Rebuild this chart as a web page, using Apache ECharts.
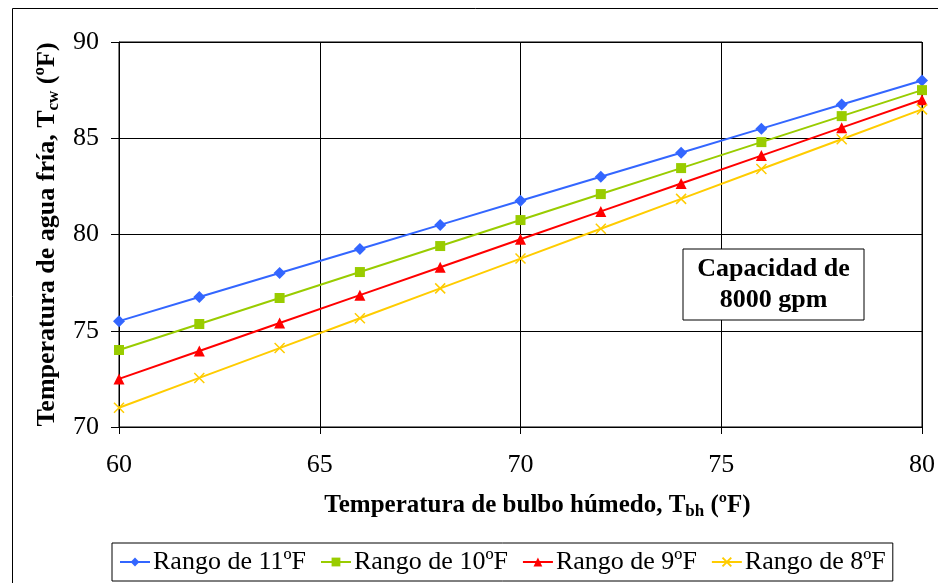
<!DOCTYPE html>
<html>
<head>
<meta charset="utf-8">
<script src="https://cdn.jsdelivr.net/npm/echarts@6/dist/echarts.min.js"></script>
<style>
  html, body { margin: 0; padding: 0; background: #fff; }
  #chart { width: 938px; height: 583px; }
</style>
</head>
<body>
<div id="chart"></div>
<script>
// Wet-bulb temperature (ºF) on the horizontal axis
const wetBulb = [60, 62, 64, 66, 68, 70, 72, 74, 76, 78, 80];

// Cold-water temperature (ºF) for each cooling range
const range11 = [75.5, 76.75, 78.0, 79.25, 80.5, 81.75, 83.0, 84.25, 85.5, 86.75, 88.0];
const range10 = [74.0, 75.35, 76.7, 78.05, 79.4, 80.75, 82.1, 83.45, 84.8, 86.15, 87.5];
const range9  = [72.5, 73.95, 75.4, 76.85, 78.3, 79.75, 81.2, 82.65, 84.1, 85.55, 87.0];
const range8  = [71.0, 72.55, 74.1, 75.65, 77.2, 78.75, 80.3, 81.85, 83.4, 84.95, 86.5];

const seriesNames = ['Rango de 11ºF', 'Rango de 10ºF', 'Rango de 9ºF', 'Rango de 8ºF'];

const FONT = 'Liberation Serif';

const pairs = ys => wetBulb.map((x, i) => [x, ys[i]]);

function lineSeries(name, ys, color, symbol, size, extraItem) {
  return {
    name: name,
    type: 'line',
    data: pairs(ys),
    symbol: symbol,
    symbolSize: size,
    showSymbol: true,
    lineStyle: { color: color, width: 2 },
    itemStyle: Object.assign({ color: color }, extraItem || {}),
    emphasis: { disabled: true },
    animation: false,
    z: 3
  };
}

const chart = echarts.init(document.getElementById('chart'));

chart.setOption({
  backgroundColor: '#ffffff',
  animation: false,
  textStyle: { fontFamily: FONT },
  grid: {
    left: 119, right: 14, top: 42, bottom: 156,
    show: true, borderColor: '#000', borderWidth: 1, backgroundColor: 'transparent'
  },
  xAxis: {
    type: 'value',
    min: 60, max: 80, interval: 5,
    axisLine: { show: true, lineStyle: { color: '#000', width: 1 } },
    axisTick: { show: true, inside: false, length: 7, lineStyle: { color: '#000' } },
    axisLabel: { color: '#000', fontFamily: FONT, fontSize: 26, margin: 25 },
    splitLine: { show: true, lineStyle: { color: '#000', width: 1 } },
    name: 'Temperatura de bulbo húmedo, T{sub|bh} (ºF)',
    nameLocation: 'middle',
    nameGap: 64,
    nameTextStyle: {
      color: '#000', fontFamily: FONT, fontSize: 25, fontWeight: 'bold',
      padding: [0, 0, 0, 34],
      rich: {
        sub: { fontFamily: FONT, fontSize: 17, fontWeight: 'bold', color: '#000', padding: [12, 0, 0, 0] }
      }
    }
  },
  yAxis: {
    type: 'value',
    min: 70, max: 90, interval: 5,
    axisLine: { show: true, lineStyle: { color: '#000', width: 1 } },
    axisTick: { show: true, inside: false, length: 8, lineStyle: { color: '#000' } },
    axisLabel: { color: '#000', fontFamily: FONT, fontSize: 26, margin: 20 },
    splitLine: { show: true, lineStyle: { color: '#000', width: 1 } },
    name: 'Temperatura de agua fría, T{sub|cw} (ºF)',
    nameLocation: 'middle',
    nameGap: 57,
    nameRotate: 90,
    nameTextStyle: {
      color: '#000', fontFamily: FONT, fontSize: 26, fontWeight: 'bold',
      rich: {
        sub: { fontFamily: FONT, fontSize: 17, fontWeight: 'bold', color: '#000', padding: [12, 0, 0, 0] }
      }
    }
  },
  legend: {
    data: seriesNames,
    left: 112, top: 543,
    orient: 'horizontal',
    padding: [6, 7],
    itemGap: 14,
    itemWidth: 30,
    itemHeight: 11,
    borderColor: '#000',
    borderWidth: 1,
    backgroundColor: '#fff',
    textStyle: { color: '#000', fontFamily: FONT, fontSize: 26, padding: [0, 0, 0, -2] },
    selectedMode: false
  },
  graphic: [
    {
      type: 'rect',
      left: 10, top: 6,
      shape: { x: 0, y: 0, width: 940, height: 600 },
      style: { fill: 'none', stroke: '#000', lineWidth: 1 },
      silent: true, z: -1
    },
    {
      type: 'rect',
      x: 683, y: 249,
      shape: { x: 0, y: 0, width: 181, height: 71 },
      style: { fill: '#fff', stroke: '#000', lineWidth: 1 },
      silent: true, z: 10
    },
    {
      type: 'text',
      x: 773.5, y: 254,
      style: {
        text: 'Capacidad de\n8000 gpm',
        fill: '#000',
        font: 'bold 26px "Liberation Serif"',
        textAlign: 'center',
        textVerticalAlign: 'top',
        lineHeight: 31
      },
      silent: true, z: 11
    }
  ],
  series: [
    lineSeries(seriesNames[0], range11, '#3366FF', 'diamond', 12),
    lineSeries(seriesNames[1], range10, '#99CC00', 'rect', 10),
    lineSeries(seriesNames[2], range9, '#FF0000', 'triangle', 11),
    lineSeries(seriesNames[3], range8, '#FFCC00', 'path://M0,0L10,10M0,10L10,0', 10,
      { borderColor: '#FFCC00', borderWidth: 1.5 })
  ]
});
</script>
</body>
</html>
